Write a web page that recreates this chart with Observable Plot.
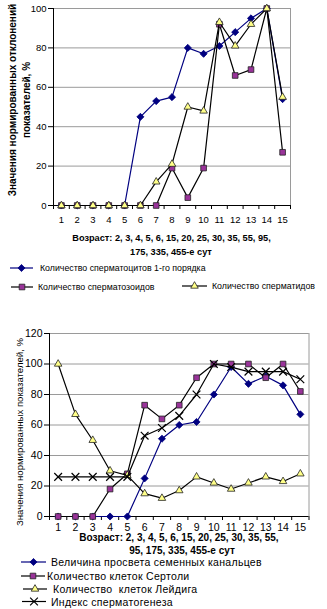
<!DOCTYPE html>
<html>
<head>
<meta charset="utf-8">
<script src="https://cdn.jsdelivr.net/npm/d3@7"></script>
<script src="https://cdn.jsdelivr.net/npm/@observablehq/plot@0.6"></script>
<style>
  html, body { margin: 0; padding: 0; background: #fff; }
  #root { position: relative; width: 327px; height: 609px; overflow: hidden; background: #fff;
          font-family: "Liberation Sans", Arial, sans-serif; color: #000; }
  .abs { position: absolute; white-space: nowrap; line-height: 1; transform: translate(-50%, -50%); }
  .plot { position: absolute; left: 0; }
  .rot { position: absolute; white-space: nowrap; text-align: center; transform: translate(-50%, -50%) rotate(-90deg); }
  .leg { position: absolute; white-space: nowrap; line-height: 1; transform: translateY(-50%); }
  .sym { position: absolute; overflow: visible; }
</style>
</head>
<body>
<div id="root"></div>
<script>
// ---------- data ----------
const xTicks = [1, 2, 3, 4, 5, 6, 7, 8, 9, 10, 11, 12, 13, 14, 15];
const yTicksTop = [0, 20, 40, 60, 80, 100];
const yTicksBottom = [0, 20, 40, 60, 80, 100, 120];

// top chart
const spermatocytes = [0, 0, 0, 0, 0, 45, 53, 55, 80, 77, 81, 88, 95, 100, 54];
const spermatozoa   = [0, 0, 0, 0, 0, 0, 0, 19, 4, 19, 92, 66, 69, 100, 27];
const spermatids    = [0, 0, 0, 0, 0, 0, 12, 21, 50, 48, 93, 81, 92, 100, 55];

// bottom chart
const lumen   = [0, 0, 0, 0, 0, 25, 51, 60, 62, 80, 98, 87, 92, 86, 67];
const sertoli = [0, 0, 0, 18, 28, 73, 64, 73, 91, 100, 100, 100, 91, 100, 82];
const leydig  = [100, 67, 50, 30, 27, 15, 12, 17, 26, 22, 18, 22, 26, 23, 28];
const spIndex = [26, 26, 26, 26, 26, 53, 58, 66, 80, 100, 98, 95, 95, 95, 90];

const NAVY = "#000080", PURPLE = "#993399", YELLOW = "#FFFF88", GRID = "#9a9a9a";
const boundaries = d3.range(0.5, 15.6, 1);

const root = document.getElementById("root");

function seriesMarks(arr, o) {
  const m = [Plot.line(arr, {x: xTicks, y: arr, stroke: o.line, strokeWidth: 1.2})];
  m.push(Plot.dot(arr, {x: xTicks, y: arr, symbol: o.symbol, r: o.r,
    fill: o.fill, stroke: o.stroke, strokeWidth: o.sw ?? 0.8}));
  return m;
}

function makeChart(cfg) {
  const chart = Plot.plot({
    width: 327, height: cfg.height,
    marginLeft: cfg.left, marginRight: cfg.right, marginTop: cfg.top, marginBottom: cfg.bottom,
    style: {fontFamily: "'Liberation Sans', Arial, sans-serif", fontSize: cfg.fontSize, background: "transparent", color: "#000", overflow: "visible"},
    x: {domain: [0.5, 15.5], axis: null},
    y: {domain: cfg.ydomain, axis: null},
    marks: [
      Plot.gridY(cfg.yticks.filter(d => d > 0), {stroke: GRID, strokeOpacity: 1, strokeWidth: 1}),
      Plot.ruleX([15.5], {stroke: GRID, strokeWidth: 1}),
      cfg.topBorder ? Plot.ruleY([cfg.ydomain[1]], {stroke: GRID}) : null,
      Plot.axisY({ticks: cfg.yticks, tickSize: 5, tickPadding: 2, label: null, tickFormat: d => String(d)}),
      Plot.axisX({ticks: xTicks, tickSize: 0, tickPadding: cfg.xPad, label: null, tickFormat: d => String(d)}),
      Plot.axisX({ticks: boundaries, tickSize: 4, tickFormat: () => "", label: null}),
      Plot.ruleY([0], {stroke: "#000", strokeWidth: 1}),
      Plot.ruleX([0.5], {stroke: "#000", strokeWidth: 1}),
      ...cfg.series.flatMap(s => seriesMarks(s.data, s))
    ]
  });
  chart.classList.add("plot");
  chart.style.top = cfg.y + "px";
  root.appendChild(chart);
}

// ---------- top chart ----------
makeChart({
  y: 0, height: 230, left: 53, right: 37, top: 8, bottom: 25, fontSize: "9.5px",
  ydomain: [0, 100], yticks: yTicksTop, xPad: 11, topBorder: false,
  series: [
    {data: spermatocytes, line: NAVY, symbol: "diamond2", r: 3.2, fill: NAVY, stroke: NAVY},
    {data: spermatozoa, line: "#000", symbol: "square2", r: 3.6, fill: PURPLE, stroke: "#222"},
    {data: spermatids, line: "#000", symbol: "triangle2", r: 3.6, fill: YELLOW, stroke: "#222"}
  ]
});

// ---------- bottom chart ----------
makeChart({
  y: 320, height: 220, left: 49, right: 18.5, top: 13, bottom: 24, fontSize: "10.5px",
  ydomain: [0, 120], yticks: yTicksBottom, xPad: 7, topBorder: true,
  series: [
    {data: lumen, line: NAVY, symbol: "diamond2", r: 3.2, fill: NAVY, stroke: NAVY},
    {data: sertoli, line: "#000", symbol: "square2", r: 3.6, fill: PURPLE, stroke: "#222"},
    {data: leydig, line: "#000", symbol: "triangle2", r: 3.6, fill: YELLOW, stroke: "#222"},
    {data: spIndex, line: "#000", symbol: "times", r: 3.6, fill: "none", stroke: "#000", sw: 1.2}
  ]
});

// ---------- texts ----------
function addText(cls, html, x, y, style) {
  const d = document.createElement("div");
  d.className = cls;
  d.innerHTML = html;
  d.style.left = x + "px";
  d.style.top = y + "px";
  Object.assign(d.style, style || {});
  root.appendChild(d);
  return d;
}

// axis titles
addText("rot", "Значения нормированных отклонений<br>показателей, %", 19, 100,
  {fontSize: "10px", fontWeight: "bold", lineHeight: "13.5px"});
addText("rot", "Значения нормированных показателей, %", 19, 432, {fontSize: "9.6px"});

const bold92 = {fontSize: "9.2px", fontWeight: "bold"};
addText("abs", "Возраст: 2, 3, 4, 5, 6, 15, 20, 25, 30, 35, 55, 95,", 171.5, 239, bold92);
addText("abs", "175, 335, 455-е сут", 171, 253, bold92);
const bold10 = {fontSize: "10px", fontWeight: "bold"};
addText("abs", "Возраст: 2, 3, 4, 5, 6, 15, 20, 25, 30, 35, 55,", 179, 538, bold10);
addText("abs", "95, 175, 335, 455-е сут", 182, 551, bold10);

// legend symbols
function legendSym(x1, x2, y, s) {
  const ns = "http://www.w3.org/2000/svg";
  const svg = document.createElementNS(ns, "svg");
  svg.setAttribute("class", "sym");
  svg.setAttribute("width", 327); svg.setAttribute("height", 609);
  svg.style.left = "0px"; svg.style.top = "0px";
  const line = document.createElementNS(ns, "line");
  line.setAttribute("x1", x1); line.setAttribute("x2", x2);
  line.setAttribute("y1", y); line.setAttribute("y2", y);
  line.setAttribute("stroke", s.line); line.setAttribute("stroke-width", 1.2);
  svg.appendChild(line);
  const symMap = {diamond2: d3.symbolDiamond2, square2: d3.symbolSquare2, triangle2: d3.symbolTriangle2, times: d3.symbolTimes};
  const p = document.createElementNS(ns, "path");
  p.setAttribute("d", d3.symbol(symMap[s.symbol], s.r * s.r * Math.PI)());
  p.setAttribute("transform", `translate(${(x1 + x2) / 2},${y})`);
  p.setAttribute("fill", s.fill); p.setAttribute("stroke", s.stroke);
  p.setAttribute("stroke-width", s.sw ?? 0.8);
  svg.appendChild(p);
  root.appendChild(svg);
}

const sCyte = {line: NAVY, symbol: "diamond2", r: 3.2, fill: NAVY, stroke: NAVY};
const sZoa = {line: "#000", symbol: "square2", r: 3.6, fill: PURPLE, stroke: "#222"};
const sTid = {line: "#000", symbol: "triangle2", r: 3.6, fill: YELLOW, stroke: "#222"};
const sX = {line: "#000", symbol: "times", r: 3.6, fill: "none", stroke: "#000", sw: 1.2};

// top legend
const topLeg = {fontSize: "8.8px"};
legendSym(10, 33, 268, sCyte);
addText("leg", "Количество сперматоцитов 1-го порядка", 40, 268, topLeg);
legendSym(11, 33, 287, sZoa);
addText("leg", "Количество сперматозоидов", 38, 287, topLeg);
legendSym(182, 207, 286, sTid);
addText("leg", "Количество сперматидов", 212, 286, topLeg);

// bottom legend
const botLeg = {fontSize: "10.5px", letterSpacing: "0.3px"};
legendSym(21, 46, 562, sCyte);
addText("leg", "Величина просвета семенных канальцев", 51, 562, botLeg);
legendSym(21, 45, 576, sZoa);
addText("leg", "Количество клеток Сертоли", 47, 576, botLeg);
legendSym(23, 47, 589, sTid);
addText("leg", "Количество&nbsp; клеток Лейдига", 53, 589, botLeg);
legendSym(22, 46, 601.5, sX);
addText("leg", "Индекс сперматогенеза", 51, 601.5, botLeg);
</script>
</body>
</html>
